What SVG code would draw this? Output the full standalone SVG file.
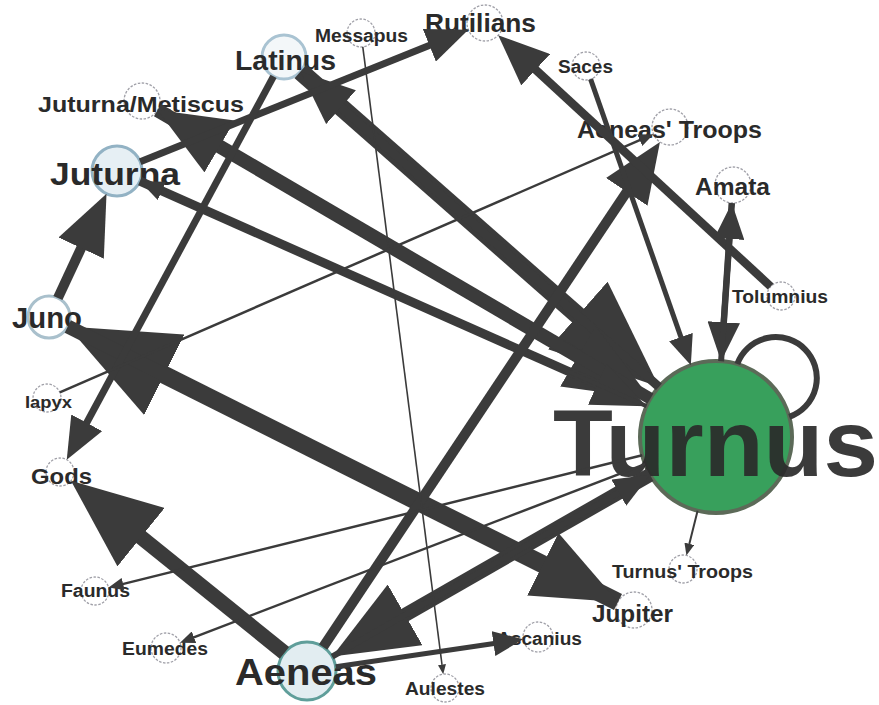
<svg xmlns="http://www.w3.org/2000/svg" width="879" height="705" viewBox="0 0 879 705">
  <defs>
    <!-- arrowhead scaled by stroke width: length 6sw, width 5sw; line end sits 1.5sw inside the base -->
    <marker id="head" viewBox="0 0 12 10" refX="3" refY="5" markerWidth="6" markerHeight="5" markerUnits="strokeWidth" orient="auto">
      <path d="M0,0 L12,5 L0,10 z" fill="#3b3b3b"/>
    </marker>
    <style>
      .edge { stroke: #3b3b3b; fill: none; stroke-linecap: butt; }
      .arrow { marker-end: url(#head); }
      .small { fill: #ffffff; stroke: #a0a0a8; stroke-width: 1.3; stroke-dasharray: 2.5 1.5; }
      .major { stroke-width: 3; }
      .lbl { font-family: "Liberation Sans", Arial, Helvetica, sans-serif; font-weight: bold; fill: #2a2a2a; }
    </style>
  </defs>

  <rect x="0" y="0" width="879" height="705" fill="#ffffff"/>

  <!-- nodes -->
  <g id="node-messapus">
    <circle class="small" cx="361" cy="33" r="14"/>
    <text class="lbl" x="315" y="42" font-size="18" textLength="93" lengthAdjust="spacingAndGlyphs">Messapus</text>
  </g>
  <g id="node-latinus">
    <circle cx="284" cy="57" r="22" fill="#f3f7f9" stroke="#a9c3d2" class="major"/>
    <text class="lbl" x="235" y="70" font-size="28" textLength="101" lengthAdjust="spacingAndGlyphs">Latinus</text>
  </g>
  <g id="node-rutilians">
    <circle class="small" cx="485" cy="23" r="18"/>
    <text class="lbl" x="425" y="32" font-size="26" textLength="111" lengthAdjust="spacingAndGlyphs">Rutilians</text>
  </g>
  <g id="node-saces">
    <circle class="small" cx="586" cy="66" r="14"/>
    <text class="lbl" x="558" y="73" font-size="18" textLength="55" lengthAdjust="spacingAndGlyphs">Saces</text>
  </g>
  <g id="node-aeneas-troops">
    <circle class="small" cx="670" cy="127" r="18"/>
    <text class="lbl" x="577" y="138" font-size="23" textLength="185" lengthAdjust="spacingAndGlyphs">Aeneas' Troops</text>
  </g>
  <g id="node-amata">
    <circle class="small" cx="733" cy="185" r="18" stroke="#8ea4c0"/>
    <text class="lbl" x="695" y="195" font-size="23" textLength="75" lengthAdjust="spacingAndGlyphs">Amata</text>
  </g>
  <g id="node-tolumnius">
    <circle class="small" cx="781" cy="296" r="14"/>
    <text class="lbl" x="732" y="303" font-size="18" textLength="96" lengthAdjust="spacingAndGlyphs">Tolumnius</text>
  </g>
  <g id="node-turnus">
    <circle cx="716" cy="437" r="76" fill="#38a05c" stroke="#5c6a58" stroke-width="4"/>
    <text class="lbl" x="553" y="476" font-size="95" textLength="325" lengthAdjust="spacingAndGlyphs" fill="#333333" fill-opacity="0.92">Turnus</text>
  </g>
  <g id="node-turnus-troops">
    <circle class="small" cx="683" cy="569" r="14"/>
    <text class="lbl" x="612" y="578" font-size="19" textLength="141" lengthAdjust="spacingAndGlyphs">Turnus' Troops</text>
  </g>
  <g id="node-jupiter">
    <circle class="small" cx="634" cy="610" r="18"/>
    <text class="lbl" x="592" y="622" font-size="23" textLength="81" lengthAdjust="spacingAndGlyphs">Jupiter</text>
  </g>
  <g id="node-ascanius">
    <circle class="small" cx="538" cy="637" r="15"/>
    <text class="lbl" x="497" y="645" font-size="18" textLength="85" lengthAdjust="spacingAndGlyphs">Ascanius</text>
  </g>
  <g id="node-aulestes">
    <circle class="small" cx="445" cy="688" r="14"/>
    <text class="lbl" x="405" y="695" font-size="18" textLength="80" lengthAdjust="spacingAndGlyphs">Aulestes</text>
  </g>
  <g id="node-aeneas">
    <circle cx="307" cy="671" r="29" fill="#e2edf1" stroke="#5f9e9a" class="major"/>
    <text class="lbl" x="235" y="685" font-size="36" textLength="142" lengthAdjust="spacingAndGlyphs">Aeneas</text>
  </g>
  <g id="node-eumedes">
    <circle class="small" cx="166" cy="648" r="15"/>
    <text class="lbl" x="122" y="655" font-size="18" textLength="86" lengthAdjust="spacingAndGlyphs">Eumedes</text>
  </g>
  <g id="node-faunus">
    <circle class="small" cx="95" cy="591" r="14"/>
    <text class="lbl" x="61" y="597" font-size="18" textLength="69" lengthAdjust="spacingAndGlyphs">Faunus</text>
  </g>
  <g id="node-gods">
    <circle class="small" cx="60" cy="472" r="14"/>
    <text class="lbl" x="31" y="484" font-size="22" textLength="61" lengthAdjust="spacingAndGlyphs">Gods</text>
  </g>
  <g id="node-iapyx">
    <circle class="small" cx="47" cy="398" r="14"/>
    <text class="lbl" x="25" y="408" font-size="17" textLength="47" lengthAdjust="spacingAndGlyphs">Iapyx</text>
  </g>
  <g id="node-juno">
    <circle cx="49" cy="317" r="21" fill="#ffffff" stroke="#a9c0cc" class="major"/>
    <text class="lbl" x="12" y="328" font-size="29" textLength="70" lengthAdjust="spacingAndGlyphs">Juno</text>
  </g>
  <g id="node-juturna">
    <circle cx="117" cy="171" r="25" fill="#e6eff4" stroke="#92b2c4" class="major"/>
    <text class="lbl" x="50" y="185" font-size="32" textLength="130" lengthAdjust="spacingAndGlyphs">Juturna</text>
  </g>
  <g id="node-juturna-metiscus">
    <circle class="small" cx="142" cy="101" r="18"/>
    <text class="lbl" x="38" y="112" font-size="22" textLength="206" lengthAdjust="spacingAndGlyphs">Juturna/Metiscus</text>
  </g>

  <!-- connectors -->
  <g id="edges" class="edge">
    <line class="arrow" x1="618" y1="602" x2="140.2" y2="362.7" stroke-width="18"/>
    <line class="arrow" x1="67.8" y1="326.4" x2="561.6" y2="573.7" stroke-width="14"/>
    <line class="arrow" x1="300.5" y1="71.5" x2="598.1" y2="333.3" stroke-width="18"/>
    <line class="arrow" x1="658.9" y1="386.8" x2="330.9" y2="98.3" stroke-width="9"/>
    <line class="arrow" x1="157.5" y1="110.1" x2="596.0" y2="366.8" stroke-width="14"/>
    <line class="arrow" x1="650.4" y1="398.6" x2="204.1" y2="137.4" stroke-width="12"/>
    <line class="arrow" x1="139.9" y1="181.2" x2="609.5" y2="389.7" stroke-width="9"/>
    <line class="arrow" x1="646.5" y1="406.1" x2="156.4" y2="188.5" stroke-width="4"/>
    <line class="arrow" x1="140.2" y1="161.7" x2="439.1" y2="41.4" stroke-width="7"/>
    <line class="arrow" x1="57.9" y1="298.0" x2="87.5" y2="234.5" stroke-width="10"/>
    <line class="arrow" x1="273.5" y1="76.4" x2="81.7" y2="432.0" stroke-width="7"/>
    <line class="arrow" x1="284.4" y1="652.8" x2="123.5" y2="523.1" stroke-width="15"/>
    <line class="arrow" x1="323.1" y1="646.9" x2="635.0" y2="179.4" stroke-width="10"/>
    <line class="arrow" x1="650.0" y1="474.8" x2="386.9" y2="625.3" stroke-width="14"/>
    <line class="arrow" x1="332.2" y1="656.6" x2="626.6" y2="488.2" stroke-width="6"/>
    <line class="arrow" x1="335.7" y1="666.8" x2="500.9" y2="642.5" stroke-width="5"/>
    <line class="arrow" x1="362.8" y1="46.9" x2="442.3" y2="667.0" stroke-width="1.6"/>
    <line class="arrow" x1="642.2" y1="455.3" x2="119.5" y2="584.9" stroke-width="2.5"/>
    <line class="arrow" x1="645.0" y1="464.2" x2="190.5" y2="638.6" stroke-width="2.5"/>
    <line class="arrow" x1="59.8" y1="392.4" x2="643.2" y2="138.7" stroke-width="2.5"/>
    <line class="arrow" x1="590.6" y1="79.2" x2="683.4" y2="344.1" stroke-width="5"/>
    <line class="arrow" x1="770.7" y1="286.5" x2="526.3" y2="61.1" stroke-width="8.5"/>
    <line class="arrow" x1="731.8" y1="203.0" x2="723.1" y2="332.0" stroke-width="6.5"/>
    <line class="arrow" x1="721.1" y1="361.2" x2="730.0" y2="229.9" stroke-width="6"/>
    <line class="arrow" x1="697.6" y1="510.7" x2="688.6" y2="546.7" stroke-width="2"/>
    <!-- Turnus self-loop -->
    <path d="M737.3,364 A41,41 0 1 1 789.3,416.8" stroke-width="6"/>
  </g>
</svg>
